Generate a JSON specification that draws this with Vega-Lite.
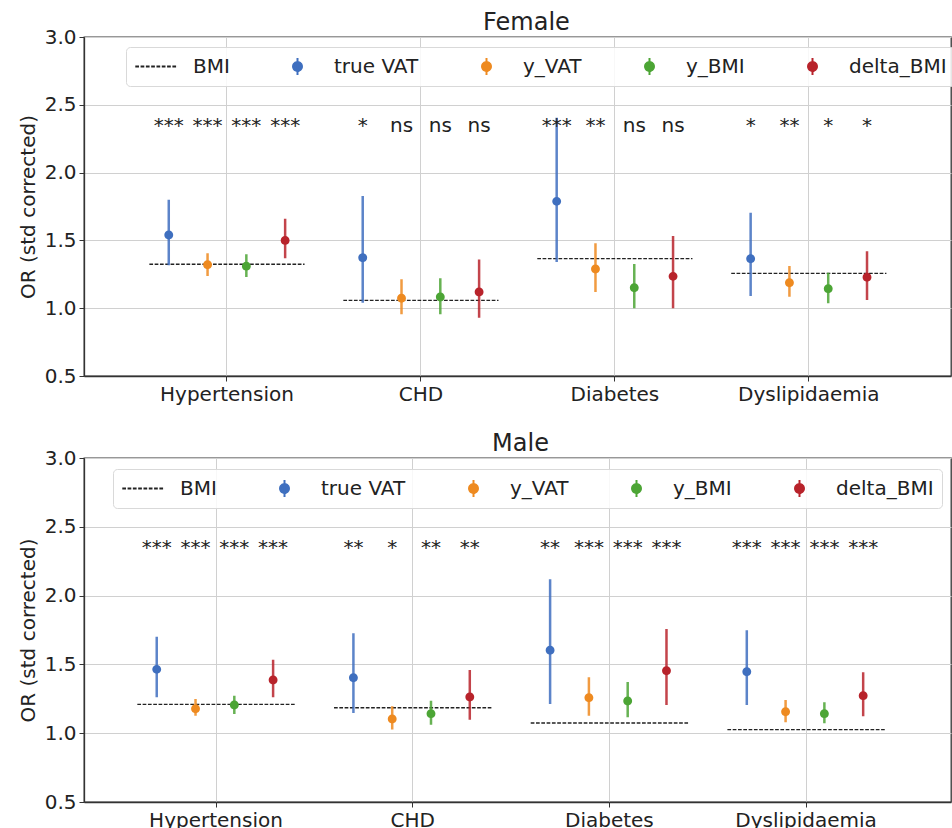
{
  "$schema": "https://vega.github.io/schema/vega-lite/v6.json",
  "padding": {"left": 17, "top": 10, "right": 0, "bottom": 0},
  "background": "white",
  "datasets": {
    "female": [
      {"disease": "Hypertension", "series": "true VAT", "or": 1.54, "lo": 1.316, "hi": 1.80, "sig": "***"},
      {"disease": "Hypertension", "series": "y_VAT", "or": 1.32, "lo": 1.237, "hi": 1.405, "sig": "***"},
      {"disease": "Hypertension", "series": "y_BMI", "or": 1.31, "lo": 1.23, "hi": 1.397, "sig": "***"},
      {"disease": "Hypertension", "series": "delta_BMI", "or": 1.50, "lo": 1.368, "hi": 1.66, "sig": "***"},
      {"disease": "CHD", "series": "true VAT", "or": 1.372, "lo": 1.04, "hi": 1.827, "sig": "*"},
      {"disease": "CHD", "series": "y_VAT", "or": 1.073, "lo": 0.955, "hi": 1.213, "sig": "ns"},
      {"disease": "CHD", "series": "y_BMI", "or": 1.083, "lo": 0.955, "hi": 1.22, "sig": "ns"},
      {"disease": "CHD", "series": "delta_BMI", "or": 1.119, "lo": 0.93, "hi": 1.36, "sig": "ns"},
      {"disease": "Diabetes", "series": "true VAT", "or": 1.788, "lo": 1.34, "hi": 2.405, "sig": "***"},
      {"disease": "Diabetes", "series": "y_VAT", "or": 1.289, "lo": 1.119, "hi": 1.479, "sig": "**"},
      {"disease": "Diabetes", "series": "y_BMI", "or": 1.151, "lo": 1.0, "hi": 1.326, "sig": "ns"},
      {"disease": "Diabetes", "series": "delta_BMI", "or": 1.235, "lo": 1.0, "hi": 1.532, "sig": "ns"},
      {"disease": "Dyslipidaemia", "series": "true VAT", "or": 1.365, "lo": 1.09, "hi": 1.704, "sig": "*"},
      {"disease": "Dyslipidaemia", "series": "y_VAT", "or": 1.188, "lo": 1.085, "hi": 1.311, "sig": "**"},
      {"disease": "Dyslipidaemia", "series": "y_BMI", "or": 1.144, "lo": 1.036, "hi": 1.262, "sig": "*"},
      {"disease": "Dyslipidaemia", "series": "delta_BMI", "or": 1.228, "lo": 1.06, "hi": 1.42, "sig": "*"}
    ],
    "female_bmi": [
      {"disease": "Hypertension", "bmi": 1.324},
      {"disease": "CHD", "bmi": 1.058},
      {"disease": "Diabetes", "bmi": 1.365},
      {"disease": "Dyslipidaemia", "bmi": 1.257}
    ],
    "male": [
      {"disease": "Hypertension", "series": "true VAT", "or": 1.464, "lo": 1.261, "hi": 1.701, "sig": "***"},
      {"disease": "Hypertension", "series": "y_VAT", "or": 1.178, "lo": 1.127, "hi": 1.249, "sig": "***"},
      {"disease": "Hypertension", "series": "y_BMI", "or": 1.205, "lo": 1.14, "hi": 1.273, "sig": "***"},
      {"disease": "Hypertension", "series": "delta_BMI", "or": 1.387, "lo": 1.261, "hi": 1.534, "sig": "***"},
      {"disease": "CHD", "series": "true VAT", "or": 1.403, "lo": 1.147, "hi": 1.726, "sig": "**"},
      {"disease": "CHD", "series": "y_VAT", "or": 1.103, "lo": 1.026, "hi": 1.195, "sig": "*"},
      {"disease": "CHD", "series": "y_BMI", "or": 1.142, "lo": 1.062, "hi": 1.236, "sig": "**"},
      {"disease": "CHD", "series": "delta_BMI", "or": 1.263, "lo": 1.098, "hi": 1.459, "sig": "**"},
      {"disease": "Diabetes", "series": "true VAT", "or": 1.603, "lo": 1.212, "hi": 2.118, "sig": "**"},
      {"disease": "Diabetes", "series": "y_VAT", "or": 1.258, "lo": 1.127, "hi": 1.406, "sig": "***"},
      {"disease": "Diabetes", "series": "y_BMI", "or": 1.234, "lo": 1.116, "hi": 1.372, "sig": "***"},
      {"disease": "Diabetes", "series": "delta_BMI", "or": 1.454, "lo": 1.205, "hi": 1.757, "sig": "***"},
      {"disease": "Dyslipidaemia", "series": "true VAT", "or": 1.447, "lo": 1.205, "hi": 1.748, "sig": "***"},
      {"disease": "Dyslipidaemia", "series": "y_VAT", "or": 1.156, "lo": 1.079, "hi": 1.241, "sig": "***"},
      {"disease": "Dyslipidaemia", "series": "y_BMI", "or": 1.142, "lo": 1.072, "hi": 1.225, "sig": "***"},
      {"disease": "Dyslipidaemia", "series": "delta_BMI", "or": 1.273, "lo": 1.123, "hi": 1.443, "sig": "***"}
    ],
    "male_bmi": [
      {"disease": "Hypertension", "bmi": 1.21},
      {"disease": "CHD", "bmi": 1.185},
      {"disease": "Diabetes", "bmi": 1.074},
      {"disease": "Dyslipidaemia", "bmi": 1.026}
    ]
  },
  "vconcat": [
    {
      "title": {"text": "Female", "dx": 9},
      "width": 867,
      "height": 339,
      "layer": [
        {
          "data": {"name": "female_bmi"},
          "mark": {"type": "rule", "color": "#222222", "strokeDash": [3.7, 1.6], "strokeWidth": 1.3},
          "encoding": {
            "x": {"field": "disease", "type": "nominal", "bandPosition": 0,
                  "scale": {"domain": ["Hypertension", "CHD", "Diabetes", "Dyslipidaemia"], "paddingInner": 0.2, "paddingOuter": 0.335, "align": 0.503},
                  "axis": {"title": null, "labelAngle": 0, "grid": true, "tickBand": "center"}},
            "x2": {"field": "disease", "bandPosition": 1},
            "y": {"field": "bmi", "type": "quantitative",
                  "scale": {"domain": [0.5, 3.0], "nice": false, "zero": false},
                  "axis": {"title": "OR (std corrected)", "values": [0.5, 1.0, 1.5, 2.0, 2.5, 3.0], "format": ".1f", "grid": true}}
          }
        },
        {
          "data": {"name": "female"},
          "mark": {"type": "rule", "strokeWidth": 2.5, "opacity": 0.85},
          "encoding": {
            "x": {"field": "disease", "type": "nominal"},
            "xOffset": {"field": "series", "type": "nominal", "scale": {"domain": ["true VAT", "y_VAT", "y_BMI", "delta_BMI"], "paddingInner": 0, "paddingOuter": 0}},
            "y": {"field": "lo", "type": "quantitative"},
            "y2": {"field": "hi"},
            "stroke": {"field": "series", "type": "nominal",
                       "scale": {"domain": ["BMI", "true VAT", "y_VAT", "y_BMI", "delta_BMI"], "range": ["#222222", "#3f6fbf", "#ee8a20", "#4ca535", "#b8232b"]},
                       "legend": {"title": null, "orient": "none", "legendX": 42, "legendY": 10, "direction": "horizontal", "columns": 5, "columnPadding": 45,
                         "symbolSize": 1800, "symbolStrokeWidth": 2, "symbolOpacity": 1, "clipHeight": 23, "labelFontSize": 20, "labelColor": "#222222", "labelOffset": 14, "labelLimit": 400,
                         "padding": 8, "strokeColor": "#d9d9d9", "fillColor": "rgba(255,255,255,0.85)", "cornerRadius": 4}},
            "strokeDash": {"field": "series", "type": "nominal",
                       "scale": {"domain": ["BMI", "true VAT", "y_VAT", "y_BMI", "delta_BMI"], "range": [[3.7, 1.6], [1, 0], [1, 0], [1, 0], [1, 0]]},
                       "legend": {"title": null, "orient": "none", "legendX": 42, "legendY": 10, "direction": "horizontal", "columns": 5, "columnPadding": 45,
                         "symbolSize": 1800, "symbolStrokeWidth": 2, "symbolOpacity": 1, "clipHeight": 23, "labelFontSize": 20, "labelColor": "#222222", "labelOffset": 14, "labelLimit": 400,
                         "padding": 8, "strokeColor": "#d9d9d9", "fillColor": "rgba(255,255,255,0.85)", "cornerRadius": 4}}
          }
        },
        {
          "data": {"name": "female"},
          "mark": {"type": "point", "filled": true, "size": 1800, "opacity": 1},
          "encoding": {
            "x": {"field": "disease", "type": "nominal"},
            "xOffset": {"field": "series", "type": "nominal"},
            "y": {"field": "or", "type": "quantitative"},
            "color": {"field": "series", "type": "nominal",
                      "scale": {"domain": ["BMI", "true VAT", "y_VAT", "y_BMI", "delta_BMI"], "range": ["#222222", "#3f6fbf", "#ee8a20", "#4ca535", "#b8232b"]},
                      "legend": {"title": null, "orient": "none", "legendX": 42, "legendY": 10, "direction": "horizontal", "columns": 5, "columnPadding": 45,
                         "symbolSize": 1800, "symbolStrokeWidth": 2, "symbolOpacity": 1, "clipHeight": 23, "labelFontSize": 20, "labelColor": "#222222", "labelOffset": 14, "labelLimit": 400,
                         "padding": 8, "strokeColor": "#d9d9d9", "fillColor": "rgba(255,255,255,0.85)", "cornerRadius": 4}},
            "shape": {"field": "series", "type": "nominal",
                      "scale": {"domain": ["BMI", "true VAT", "y_VAT", "y_BMI", "delta_BMI"],
                                "range": ["M-1,0L1,0", "M-0.21,0A0.21,0.21,0,1,1,0.21,0A0.21,0.21,0,1,1,-0.21,0ZM0,-0.4L0,0.4", "M-0.21,0A0.21,0.21,0,1,1,0.21,0A0.21,0.21,0,1,1,-0.21,0ZM0,-0.4L0,0.4", "M-0.21,0A0.21,0.21,0,1,1,0.21,0A0.21,0.21,0,1,1,-0.21,0ZM0,-0.4L0,0.4", "M-0.21,0A0.21,0.21,0,1,1,0.21,0A0.21,0.21,0,1,1,-0.21,0ZM0,-0.4L0,0.4"]},
                      "legend": {"title": null, "orient": "none", "legendX": 42, "legendY": 10, "direction": "horizontal", "columns": 5, "columnPadding": 45,
                         "symbolSize": 1800, "symbolStrokeWidth": 2, "symbolOpacity": 1, "clipHeight": 23, "labelFontSize": 20, "labelColor": "#222222", "labelOffset": 14, "labelLimit": 400,
                         "padding": 8, "strokeColor": "#d9d9d9", "fillColor": "rgba(255,255,255,0.85)", "cornerRadius": 4}}
          }
        },
        {
          "data": {"name": "female"},
          "mark": {"type": "text", "fontSize": 20, "baseline": "alphabetic", "align": "center", "color": "#222222"},
          "encoding": {
            "x": {"field": "disease", "type": "nominal"},
            "xOffset": {"field": "series", "type": "nominal"},
            "y": {"datum": 2.3},
            "text": {"field": "sig"}
          }
        }
      ]
    },
    {
      "title": {"text": "Male", "dx": 3},
      "width": 867,
      "height": 344,
      "layer": [
        {
          "data": {"name": "male_bmi"},
          "mark": {"type": "rule", "color": "#222222", "strokeDash": [3.7, 1.6], "strokeWidth": 1.3},
          "encoding": {
            "x": {"field": "disease", "type": "nominal", "bandPosition": 0,
                  "scale": {"domain": ["Hypertension", "CHD", "Diabetes", "Dyslipidaemia"], "paddingInner": 0.2, "paddingOuter": 0.304, "align": 0.446},
                  "axis": {"title": null, "labelAngle": 0, "grid": true, "tickBand": "center"}},
            "x2": {"field": "disease", "bandPosition": 1},
            "y": {"field": "bmi", "type": "quantitative",
                  "scale": {"domain": [0.5, 3.0], "nice": false, "zero": false},
                  "axis": {"title": "OR (std corrected)", "values": [0.5, 1.0, 1.5, 2.0, 2.5, 3.0], "format": ".1f", "grid": true}}
          }
        },
        {
          "data": {"name": "male"},
          "mark": {"type": "rule", "strokeWidth": 2.5, "opacity": 0.85},
          "encoding": {
            "x": {"field": "disease", "type": "nominal"},
            "xOffset": {"field": "series", "type": "nominal", "scale": {"domain": ["true VAT", "y_VAT", "y_BMI", "delta_BMI"], "paddingInner": 0, "paddingOuter": 0}},
            "y": {"field": "lo", "type": "quantitative"},
            "y2": {"field": "hi"},
            "stroke": {"field": "series", "type": "nominal",
                       "scale": {"domain": ["BMI", "true VAT", "y_VAT", "y_BMI", "delta_BMI"], "range": ["#222222", "#3f6fbf", "#ee8a20", "#4ca535", "#b8232b"]},
                       "legend": {"title": null, "orient": "none", "legendX": 29, "legendY": 11, "direction": "horizontal", "columns": 5, "columnPadding": 45,
                         "symbolSize": 1800, "symbolStrokeWidth": 2, "symbolOpacity": 1, "clipHeight": 23, "labelFontSize": 20, "labelColor": "#222222", "labelOffset": 14, "labelLimit": 400,
                         "padding": 8, "strokeColor": "#d9d9d9", "fillColor": "rgba(255,255,255,0.85)", "cornerRadius": 4}},
            "strokeDash": {"field": "series", "type": "nominal",
                       "scale": {"domain": ["BMI", "true VAT", "y_VAT", "y_BMI", "delta_BMI"], "range": [[3.7, 1.6], [1, 0], [1, 0], [1, 0], [1, 0]]},
                       "legend": {"title": null, "orient": "none", "legendX": 29, "legendY": 11, "direction": "horizontal", "columns": 5, "columnPadding": 45,
                         "symbolSize": 1800, "symbolStrokeWidth": 2, "symbolOpacity": 1, "clipHeight": 23, "labelFontSize": 20, "labelColor": "#222222", "labelOffset": 14, "labelLimit": 400,
                         "padding": 8, "strokeColor": "#d9d9d9", "fillColor": "rgba(255,255,255,0.85)", "cornerRadius": 4}}
          }
        },
        {
          "data": {"name": "male"},
          "mark": {"type": "point", "filled": true, "size": 1800, "opacity": 1},
          "encoding": {
            "x": {"field": "disease", "type": "nominal"},
            "xOffset": {"field": "series", "type": "nominal"},
            "y": {"field": "or", "type": "quantitative"},
            "color": {"field": "series", "type": "nominal",
                      "scale": {"domain": ["BMI", "true VAT", "y_VAT", "y_BMI", "delta_BMI"], "range": ["#222222", "#3f6fbf", "#ee8a20", "#4ca535", "#b8232b"]},
                      "legend": {"title": null, "orient": "none", "legendX": 29, "legendY": 11, "direction": "horizontal", "columns": 5, "columnPadding": 45,
                         "symbolSize": 1800, "symbolStrokeWidth": 2, "symbolOpacity": 1, "clipHeight": 23, "labelFontSize": 20, "labelColor": "#222222", "labelOffset": 14, "labelLimit": 400,
                         "padding": 8, "strokeColor": "#d9d9d9", "fillColor": "rgba(255,255,255,0.85)", "cornerRadius": 4}},
            "shape": {"field": "series", "type": "nominal",
                      "scale": {"domain": ["BMI", "true VAT", "y_VAT", "y_BMI", "delta_BMI"],
                                "range": ["M-1,0L1,0", "M-0.21,0A0.21,0.21,0,1,1,0.21,0A0.21,0.21,0,1,1,-0.21,0ZM0,-0.4L0,0.4", "M-0.21,0A0.21,0.21,0,1,1,0.21,0A0.21,0.21,0,1,1,-0.21,0ZM0,-0.4L0,0.4", "M-0.21,0A0.21,0.21,0,1,1,0.21,0A0.21,0.21,0,1,1,-0.21,0ZM0,-0.4L0,0.4", "M-0.21,0A0.21,0.21,0,1,1,0.21,0A0.21,0.21,0,1,1,-0.21,0ZM0,-0.4L0,0.4"]},
                      "legend": {"title": null, "orient": "none", "legendX": 29, "legendY": 11, "direction": "horizontal", "columns": 5, "columnPadding": 45,
                         "symbolSize": 1800, "symbolStrokeWidth": 2, "symbolOpacity": 1, "clipHeight": 23, "labelFontSize": 20, "labelColor": "#222222", "labelOffset": 14, "labelLimit": 400,
                         "padding": 8, "strokeColor": "#d9d9d9", "fillColor": "rgba(255,255,255,0.85)", "cornerRadius": 4}}
          }
        },
        {
          "data": {"name": "male"},
          "mark": {"type": "text", "fontSize": 20, "baseline": "alphabetic", "align": "center", "color": "#222222"},
          "encoding": {
            "x": {"field": "disease", "type": "nominal"},
            "xOffset": {"field": "series", "type": "nominal"},
            "y": {"datum": 2.3},
            "text": {"field": "sig"}
          }
        }
      ]
    }
  ],
  "spacing": 26,
  "resolve": {
    "scale": {"color": "independent", "stroke": "independent", "shape": "independent", "strokeDash": "independent"},
    "legend": {"color": "independent", "stroke": "independent", "shape": "independent", "strokeDash": "independent"}
  },
  "config": {
    "font": "DejaVu Sans",
    "view": {"stroke": "#333333", "strokeWidth": 1.3},
    "axis": {"labelFontSize": 20, "titleFontSize": 20, "titleFontWeight": "normal", "labelColor": "#222222", "titleColor": "#222222",
             "domainColor": "#333333", "domainWidth": 1.3, "tickColor": "#333333", "tickSize": 5, "labelPadding": 3, "titlePadding": 6,
             "gridColor": "#d0d0d0", "gridWidth": 1},
    "title": {"fontSize": 24, "fontWeight": "normal", "color": "#222222", "offset": -8}
  }
}
